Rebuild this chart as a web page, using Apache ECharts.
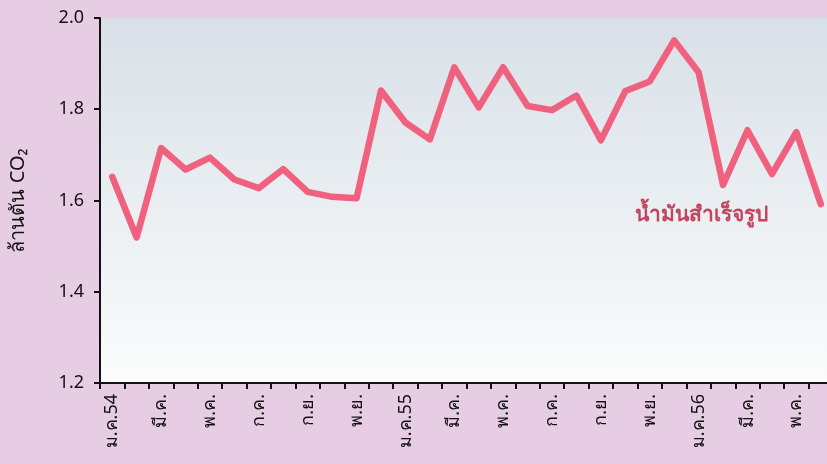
<!DOCTYPE html>
<html>
<head>
<meta charset="utf-8">
<script src="https://cdn.jsdelivr.net/npm/echarts@6/dist/echarts.min.js"></script>
<style>
  html, body { margin: 0; padding: 0; background: #e7cde3; }
  #chart { width: 827px; height: 464px; }
</style>
</head>
<body>
<div id="chart"></div>
<script>
// เดือน ม.ค.54 - มิ.ย.56
const months = [
  'ม.ค.54', 'ก.พ.', 'มี.ค.', 'เม.ย.', 'พ.ค.', 'มิ.ย.', 'ก.ค.', 'ส.ค.', 'ก.ย.', 'ต.ค.', 'พ.ย.', 'ธ.ค.',
  'ม.ค.55', 'ก.พ.', 'มี.ค.', 'เม.ย.', 'พ.ค.', 'มิ.ย.', 'ก.ค.', 'ส.ค.', 'ก.ย.', 'ต.ค.', 'พ.ย.', 'ธ.ค.',
  'ม.ค.56', 'ก.พ.', 'มี.ค.', 'เม.ย.', 'พ.ค.', 'มิ.ย.'
]
// น้ำมันสำเร็จรูป (ล้านตัน CO2)
const fuelValues = [
  1.652, 1.519, 1.715, 1.668, 1.694, 1.646, 1.627, 1.669, 1.619, 1.608, 1.605, 1.841,
  1.771, 1.734, 1.892, 1.804, 1.892, 1.807, 1.798, 1.830, 1.732, 1.840, 1.861, 1.951,
  1.881, 1.634, 1.754, 1.658, 1.750, 1.592
]
const yTicks = { min: 1.2, max: 2.0, step: 0.2 }

const fontFamily = '"Noto Sans", "DejaVu Sans", sans-serif'
const chart = echarts.init(document.getElementById('chart'))

const option = {
  backgroundColor: '#e7cde3',
  animation: false,
  grid: {
    left: 100,
    width: 733,
    top: 18,
    bottom: 81,
    outerBoundsMode: 'none',
    show: true,
    borderWidth: 0,
    backgroundColor: {
      type: 'linear', x: 0, y: 0, x2: 0, y2: 1,
      colorStops: [
        { offset: 0, color: '#d8e0e7' },
        { offset: 1, color: '#fbfcfc' }
      ]
    }
  },
  xAxis: {
    type: 'category',
    data: months,
    boundaryGap: true,
    axisLine: { lineStyle: { color: '#111', width: 2 } },
    axisTick: { show: true, interval: 0, length: 6, lineStyle: { color: '#111', width: 2 } },
    axisLabel: {
      interval: 1,
      rotate: 90,
      margin: 11,
      color: '#111',
      fontSize: 18,
      fontFamily: fontFamily
    },
    splitLine: { show: false }
  },
  yAxis: {
    type: 'value',
    min: yTicks.min,
    max: yTicks.max,
    interval: yTicks.step,
    name: 'ล้านตัน CO₂',
    nameLocation: 'middle',
    nameRotate: 90,
    nameGap: 72,
    nameTextStyle: { color: '#111', fontSize: 20, fontFamily: fontFamily },
    axisLine: { show: true, lineStyle: { color: '#111', width: 2 } },
    axisTick: { show: true, length: 6, lineStyle: { color: '#111', width: 2 } },
    axisLabel: {
      color: '#111',
      fontSize: 18,
      margin: 16,
      fontFamily: fontFamily,
      formatter: v => v.toFixed(1)
    },
    splitLine: { show: false }
  },
  graphic: [
    {
      type: 'text',
      left: 635,
      top: 205,
      style: {
        text: 'น้ำมันสำเร็จรูป',
        fill: '#c2465f',
        font: 'bold 21px ' + fontFamily
      }
    }
  ],
  series: [
    {
      name: 'น้ำมันสำเร็จรูป',
      type: 'line',
      data: fuelValues,
      symbol: 'none',
      lineStyle: { color: '#f0607f', width: 6.5, join: 'round', cap: 'round' }
    }
  ]
}

chart.setOption(option)
</script>
</body>
</html>
